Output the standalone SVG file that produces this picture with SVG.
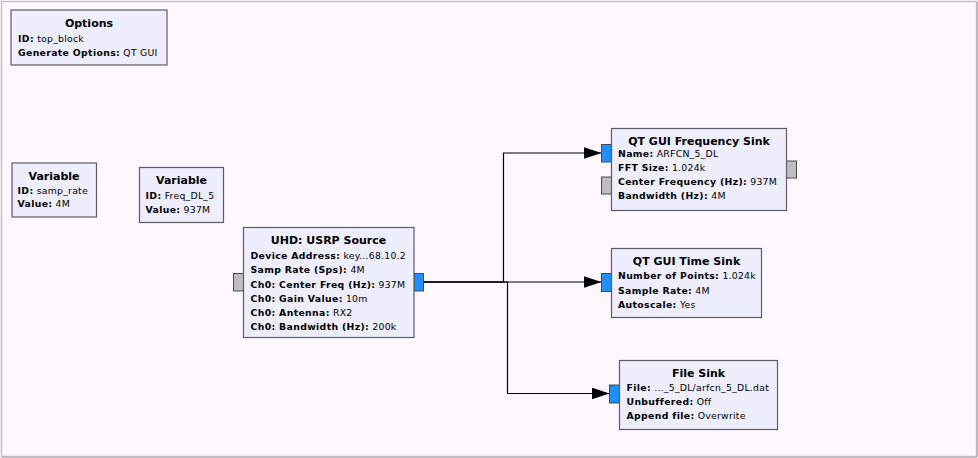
<svg xmlns="http://www.w3.org/2000/svg" width="978" height="458" viewBox="0 0 978 458">
<style>
.blk{fill:#eeeeff;stroke:#5c5c66;stroke-width:1.2}
.t{font-family:"DejaVu Sans",sans-serif;font-size:11px;font-weight:bold;fill:#000;text-anchor:middle}
.l{font-family:"DejaVu Sans",sans-serif;font-size:9.3px;letter-spacing:0.25px;fill:#000}
.l tspan.k{font-weight:bold;letter-spacing:0.35px}
.pin{fill:#1e90ff;stroke:#4a4a55;stroke-width:1}
.pg{fill:#bebebe;stroke:#4a4a55;stroke-width:1}
.c{fill:none;stroke:#000;stroke-width:1.2}
</style>
<defs>
<marker id="ah" markerWidth="18" markerHeight="12" refX="18" refY="6" orient="auto" markerUnits="userSpaceOnUse">
<path d="M0,0 L18,6 L0,12 Z" fill="#000"/>
</marker>
</defs>
<rect x="0" y="0" width="978" height="458" fill="#ffffff"/>
<rect x="1.5" y="1.5" width="975" height="455" fill="#fff8ff" stroke="#c4c0c4" stroke-width="1.5"/>
<line x1="977" y1="2" x2="977" y2="457" stroke="#b8b4b8" stroke-width="1.5"/>
<line x1="2" y1="457" x2="977" y2="457" stroke="#b8b4b8" stroke-width="1.5"/>

<g id="connectors">
<path class="c" d="M423,282 H503.5 V153 H601.5" marker-end="url(#ah)"/>
<path class="c" d="M423,282 H601.5" marker-end="url(#ah)"/>
<path class="c" d="M423,282 H507.5 V393.5 H609.5" marker-end="url(#ah)"/>
</g>

<g id="options">
<rect class="blk" x="11" y="10" width="156" height="55"/>
<text class="t" x="89" y="27">Options</text>
<text class="l" x="18" y="42"><tspan class="k">ID:</tspan> top_block</text>
<text class="l" x="18" y="56"><tspan class="k">Generate Options:</tspan> QT GUI</text>
</g>

<g id="var_samp_rate">
<rect class="blk" x="12" y="163" width="84.5" height="54"/>
<text class="t" x="54" y="179.5">Variable</text>
<text class="l" x="17.5" y="194"><tspan class="k">ID:</tspan> samp_rate</text>
<text class="l" x="17.5" y="207"><tspan class="k">Value:</tspan> 4M</text>
</g>

<g id="var_freq">
<rect class="blk" x="139.5" y="167.5" width="84" height="55"/>
<text class="t" x="181.5" y="184">Variable</text>
<text class="l" x="145.5" y="198.5"><tspan class="k">ID:</tspan> Freq_DL_5</text>
<text class="l" x="145.5" y="213"><tspan class="k">Value:</tspan> 937M</text>
</g>

<g id="usrp_source">
<rect class="pg" x="233.5" y="273.5" width="10" height="17.5"/>
<rect class="pin" x="414" y="273.5" width="9.5" height="17.5"/>
<rect class="blk" x="243.5" y="227.5" width="170.5" height="110"/>
<text class="t" x="328.5" y="244">UHD: USRP Source</text>
<text class="l" x="250.5" y="258.5"><tspan class="k">Device Address:</tspan> key...68.10.2</text>
<text class="l" x="250.5" y="273"><tspan class="k">Samp Rate (Sps):</tspan> 4M</text>
<text class="l" x="250.5" y="287.5"><tspan class="k">Ch0: Center Freq (Hz):</tspan> 937M</text>
<text class="l" x="250.5" y="301.5"><tspan class="k">Ch0: Gain Value:</tspan> 10m</text>
<text class="l" x="250.5" y="315.5"><tspan class="k">Ch0: Antenna:</tspan> RX2</text>
<text class="l" x="250.5" y="330"><tspan class="k">Ch0: Bandwidth (Hz):</tspan> 200k</text>
</g>

<g id="freq_sink">
<rect class="pin" x="601.5" y="144.5" width="10" height="17.5"/>
<rect class="pg" x="601.5" y="177" width="10" height="17"/>
<rect class="pg" x="786.5" y="161" width="10" height="17"/>
<rect class="blk" x="611.5" y="128.5" width="175" height="82"/>
<text class="t" x="699" y="144.5">QT GUI Frequency Sink</text>
<text class="l" x="618" y="157"><tspan class="k">Name:</tspan> ARFCN_5_DL</text>
<text class="l" x="618" y="171"><tspan class="k">FFT Size:</tspan> 1.024k</text>
<text class="l" x="618" y="185"><tspan class="k">Center Frequency (Hz):</tspan> 937M</text>
<text class="l" x="618" y="199"><tspan class="k">Bandwidth (Hz):</tspan> 4M</text>
</g>

<g id="time_sink">
<rect class="pin" x="601.5" y="273.5" width="10" height="18"/>
<rect class="blk" x="611.5" y="248.5" width="150" height="69"/>
<text class="t" x="686.5" y="265">QT GUI Time Sink</text>
<text class="l" x="618" y="279"><tspan class="k">Number of Points:</tspan> 1.024k</text>
<text class="l" x="618" y="293.5"><tspan class="k">Sample Rate:</tspan> 4M</text>
<text class="l" x="618" y="307.5"><tspan class="k">Autoscale:</tspan> Yes</text>
</g>

<g id="file_sink">
<rect class="pin" x="609.5" y="385" width="10" height="18"/>
<rect class="blk" x="619.5" y="360.5" width="158" height="69"/>
<text class="t" x="698.5" y="377">File Sink</text>
<text class="l" x="626.5" y="391"><tspan class="k">File:</tspan> ..._5_DL/arfcn_5_DL.dat</text>
<text class="l" x="626.5" y="405"><tspan class="k">Unbuffered:</tspan> Off</text>
<text class="l" x="626.5" y="419"><tspan class="k">Append file:</tspan> Overwrite</text>
</g>
</svg>
